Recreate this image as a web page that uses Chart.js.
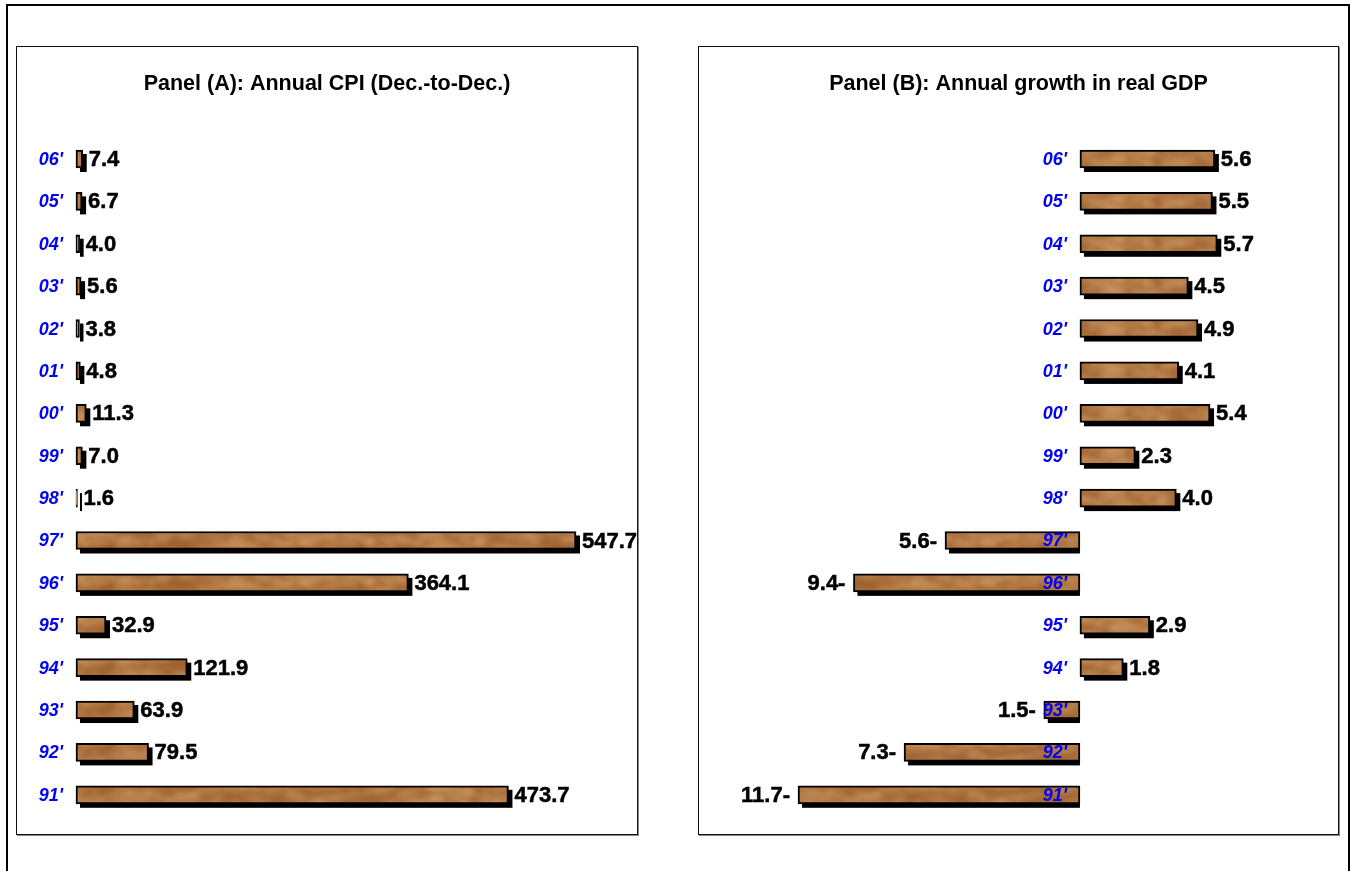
<!DOCTYPE html>
<html>
<head>
<meta charset="utf-8">
<script src="https://cdn.jsdelivr.net/npm/chart.js@4.4.1/dist/chart.umd.min.js"></script>
<style>
  body { margin: 0; background: #fff; width: 1356px; height: 871px; overflow: hidden; position: relative; }
  #frame { position: absolute; left: 6px; top: 4px; width: 1340px; height: 900px; border: 2px solid #000; }
  .panel { position: absolute; top: 46px; height: 789px; box-sizing: border-box; border: 1px solid #111; box-shadow: 1px 1px 0 #888; }
  .panel canvas { display: block; }
  #panelA { left: 16px; width: 622px; }
  #panelB { left: 698px; width: 641px; }
</style>
</head>
<body>
<div id="frame"></div>
<div class="panel" id="panelA"><canvas id="cpi-chart" width="620" height="787"></canvas></div>
<div class="panel" id="panelB"><canvas id="gdp-chart" width="639" height="787"></canvas></div>
<script>
// Years, oldest first (the y axis is reversed so 91' sits at the bottom)
const years = ["91'", "92'", "93'", "94'", "95'", "96'", "97'", "98'", "99'", "00'", "01'", "02'", "03'", "04'", "05'", "06'"];
// Annual CPI, Dec.-to-Dec., %
const cpiValues = [473.7, 79.5, 63.9, 121.9, 32.9, 364.1, 547.7, 1.6, 7.0, 11.3, 4.8, 3.8, 5.6, 4.0, 6.7, 7.4];
// Annual growth in real GDP, %
const gdpValues = [-11.7, -7.3, -1.5, 1.8, 2.9, -9.4, -5.6, 4.0, 2.3, 5.4, 4.1, 4.9, 4.5, 5.7, 5.5, 5.6];

Chart.defaults.font.family = "'Liberation Sans', Arial, sans-serif";
Chart.defaults.color = '#000';

// mottled wood fill for the bars
function woodPattern(ctx) {
    const c = document.createElement('canvas');
    c.width = 640; c.height = 40;
    const g = c.getContext('2d');
    g.fillStyle = '#a86d3a';
    g.fillRect(0, 0, c.width, c.height);
    let seed = 4242;
    const rnd = () => { seed = (seed * 16807) % 2147483647; return seed / 2147483647; };
    g.filter = 'blur(2.5px)';
    for (let i = 0; i < 480; i++) {
        const x = rnd() * c.width, y = rnd() * c.height;
        const rx = 4 + rnd() * 10, ry = 1.5 + rnd() * 2.5;
        const light = rnd() < 0.75;
        g.fillStyle = light ? 'rgba(210,158,104,0.4)' : 'rgba(140,84,40,0.3)';
        // draw wrapped copies so the tile repeats without seams
        for (const dx of [-c.width, 0, c.width]) {
            for (const dy of [-c.height, 0, c.height]) {
                g.beginPath();
                g.ellipse(x + dx, y + dy, rx, ry, 0, 0, Math.PI * 2);
                g.fill();
            }
        }
    }
    return ctx.createPattern(c, 'repeat');
}

// black drop shadow behind each bar, offset down and to the right
const barShadow = {
    id: 'barShadow',
    beforeDatasetsDraw(chart) {
        const ctx = chart.ctx;
        const meta = chart.getDatasetMeta(0);
        ctx.save();
        ctx.fillStyle = '#000';
        meta.data.forEach(bar => {
            const left = Math.min(bar.x, bar.base);
            const right = Math.max(bar.x, bar.base);
            const top = bar.y - bar.height / 2;
            const neg = bar.x < bar.base;
            const sx = left + 4;
            const ex = neg ? right : right + 4;
            ctx.fillRect(sx, top + 4, Math.max(ex - sx, 2), bar.height);
        });
        ctx.restore();
    }
};

// year labels next to the zero line and value labels at the bar ends
const barLabels = {
    id: 'barLabels',
    afterDatasetsDraw(chart) {
        const ctx = chart.ctx;
        const meta = chart.getDatasetMeta(0);
        const data = chart.data.datasets[0].data;
        const zero = chart.scales.x.getPixelForValue(0);
        ctx.save();
        ctx.textBaseline = 'middle';
        ctx.lineWidth = 0.5;
        meta.data.forEach((bar, i) => {
            const v = data[i];
            ctx.font = "bold 22px 'Liberation Sans', Arial, sans-serif";
            ctx.fillStyle = '#000';
            ctx.strokeStyle = '#000';
            let text, tx;
            if (v >= 0) {
                ctx.textAlign = 'left';
                text = v.toFixed(1);
                tx = bar.x + 6;
            } else {
                ctx.textAlign = 'right';
                text = Math.abs(v).toFixed(1) + '-';
                tx = bar.x - 8;
            }
            ctx.fillText(text, tx, bar.y + 1);
            ctx.strokeText(text, tx, bar.y + 1);
            ctx.font = "italic bold 18px 'Liberation Sans', Arial, sans-serif";
            ctx.fillStyle = '#0000f5';
            ctx.textAlign = 'right';
            ctx.fillText(chart.data.labels[i], zero - 13, bar.y + 1);
        });
        ctx.restore();
    }
};

function makePanel(canvasId, title, values, xMin, xMax) {
    const ctx = document.getElementById(canvasId).getContext('2d');
    return new Chart(ctx, {
        type: 'bar',
        data: {
            labels: years,
            datasets: [{
                data: values,
                backgroundColor: woodPattern(ctx),
                borderColor: '#000',
                borderWidth: 2,
                borderSkipped: false,
                barThickness: 18
            }]
        },
        options: {
            indexAxis: 'y',
            responsive: false,
            animation: false,
            events: [],
            layout: { padding: { top: 24, bottom: 18, left: 0, right: 0 } },
            scales: {
                x: { display: false, min: xMin, max: xMax },
                y: { display: false, reverse: true, offset: true }
            },
            plugins: {
                legend: { display: false },
                tooltip: { enabled: false },
                title: {
                    display: true,
                    text: title,
                    font: { size: 21.5, weight: 'bold' },
                    color: '#000',
                    padding: { top: 0, bottom: 41 }
                }
            }
        },
        plugins: [barShadow, barLabels]
    });
}

// x ranges chosen so the zero line lands where the year labels leave room
makePanel('cpi-chart', 'Panel (A): Annual CPI (Dec.-to-Dec.)', cpiValues, -64.6, 614.5);
makePanel('gdp-chart', 'Panel (B): Annual growth in real GDP', gdpValues, -15.81, 10.71);
</script>
</body>
</html>
